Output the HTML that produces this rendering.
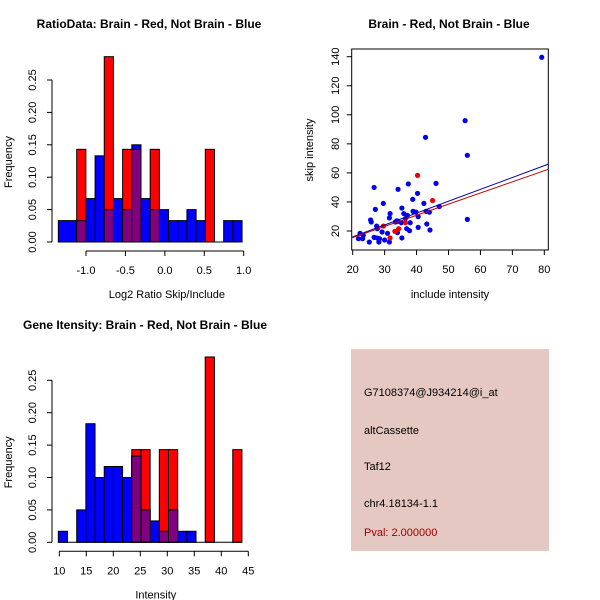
<!DOCTYPE html>
<html><head><meta charset="utf-8"><style>
html,body{margin:0;padding:0;background:#fff;}
svg{display:block;font-family:"Liberation Sans",sans-serif;}
</style></head><body>
<svg id="c" width="600" height="600" xmlns="http://www.w3.org/2000/svg">
<g id="p1"></g>
<g id="p2"></g>
<g id="p3"></g>
<g id="p4">
<rect x="351" y="349" width="198" height="202" fill="#e5c8c2"/>
<text x="364" y="396" font-size="11">G7108374@J934214@i_at</text>
<text x="364" y="434" font-size="11">altCassette</text>
<text x="364" y="470" font-size="11">Taf12</text>
<text x="364" y="507" font-size="11">chr4.18134-1.1</text>
<text x="364" y="536" font-size="11" fill="#a00000">Pval: 2.000000</text>
</g>
</svg>
<script>
// ---- data ----
var ratioBlue = [0.033,0.033,0.033,0.067,0.133,0.05,0.067,0.05,0.15,0.067,0.05,0.05,0.033,0.033,0.05,0.033,0,0,0.033,0.033];
var ratioRed  = [0,0,0.143,0,0,0.286,0,0.143,0.143,0,0.143,0,0,0,0,0,0.143,0,0,0];
var ratioStart = -1.351, ratioBinW = 0.1165;
var ratioXTicks = [-1.0,-0.5,0.0,0.5,1.0];
var intBlue = [0.017,0,0.05,0.183,0.1,0.117,0.117,0.1,0.133,0.05,0.033,0.017,0.05,0.017,0.017,0,0,0,0,0];
var intRed  = [0,0,0,0,0,0,0,0,0.143,0.143,0,0.143,0.143,0,0,0,0.286,0,0,0.143];
var intStart = 9.82, intBinW = 1.7;
var intXTicks = [10,15,20,25,30,35,40,45];
var freqTicks = [0,0.05,0.10,0.15,0.20,0.25];
var blueX = [79.2,55.2,55.9,42.8,55.9,26.7,34.2,37.4,40.3,46.1,29.6,27.1,35.4,38.8,42.3,47.1,44,43,39.8,38.9,36,31.7,31.5,37.1,40.5,25.6,25.8,34.2,35.2,38,43.2,27.5,27.7,33.4,34,36.9,37.8,40.5,44.2,35.4,30.9,29.2,22.3,21.8,23.1,25.2,26.7,27.7,28.4,28.2,30,31.5,23.3,36.5,33.8];
var blueY = [139.6,96,72.1,84.5,28,50,48.7,52.4,45.9,52.8,39,34.9,35.8,41.8,39,36.8,33,33.5,33,33.5,32,32,29,30.8,29.9,27.6,26.2,26.7,25.7,25.7,24.8,23.4,21.6,26.2,18.9,21.6,20.2,22.5,20.7,15.2,18.4,19.3,18.4,14.7,14.7,12.4,15.6,15.2,14.7,12.4,13.8,12.4,17,28.5,27];
var redX = [40.3,45,29.6,34.4,33.2,31.7,36.5];
var redY = [58.3,41,23.4,21.6,19.8,15.2,25.7];
var fitIntercept = [-0.34,0.16];
var fitSlope = [0.817,0.767];
var scXTicks = [20,30,40,50,60,70,80];
var scYTicks = [20,40,60,80,100,120,140];

var NS="http://www.w3.org/2000/svg";
function mk(parent,tag,attrs){var e=document.createElementNS(NS,tag);for(var k in attrs)e.setAttribute(k,attrs[k]);parent.appendChild(e);return e;}

function hist(g,blue,red,start,bw,xticks,xmin,xmax,px0,px1,base,title,titleX,titleY,xlab,fmt){
  var sx=function(v){return px0+(v-xmin)*(px1-px0)/(xmax-xmin);};
  var sy=function(v){return base-v*648;};
  var i,x0,x1,r;
  for(i=0;i<blue.length;i++){
    x0=sx(start+i*bw);x1=sx(start+(i+1)*bw);
    if(blue[i]>0){r=mk(g,'rect',{x:x0,y:sy(blue[i]),width:x1-x0,height:base-sy(blue[i]),fill:'#0000ff',stroke:'#000','stroke-width':1});
    
    }
  }
  for(i=0;i<red.length;i++){
    x0=sx(start+i*bw);x1=sx(start+(i+1)*bw);
    if(red[i]>0){r=mk(g,'rect',{x:x0,y:sy(red[i]),width:x1-x0,height:base-sy(red[i]),fill:'#ff0000',stroke:'#000','stroke-width':1});
    
    }
  }
  for(i=0;i<red.length;i++){
    var m=Math.min(red[i],blue[i]);
    x0=sx(start+i*bw);x1=sx(start+(i+1)*bw);
    if(m>0){r=mk(g,'rect',{x:x0,y:sy(m),width:x1-x0,height:base-sy(m),fill:'#800080',stroke:'#000','stroke-width':1});
    
    }
  }
  mk(g,'line',{x1:sx(start),x2:sx(start+blue.length*bw),y1:base,y2:base,stroke:'#000'});
  // y axis
  var ax=52;
  mk(g,'line',{x1:ax,x2:ax,y1:sy(0),y2:sy(0.25),stroke:'#000'});
  for(i=0;i<freqTicks.length;i++){
    var y=sy(freqTicks[i]);
    mk(g,'line',{x1:ax-5,x2:ax,y1:y,y2:y,stroke:'#000'});
    var t=mk(g,'text',{x:0,y:0,'font-size':11,'text-anchor':'middle',transform:'translate(36,'+y+') rotate(-90)'});
    t.textContent=freqTicks[i].toFixed(2);
    
    
  }
  // x axis
  var ay=base+9;
  mk(g,'line',{x1:sx(xticks[0]),x2:sx(xticks[xticks.length-1]),y1:ay,y2:ay,stroke:'#000'});
  for(i=0;i<xticks.length;i++){
    var x=sx(xticks[i]);
    mk(g,'line',{x1:x,x2:x,y1:ay,y2:ay+5,stroke:'#000'});
    var t2=mk(g,'text',{x:x,y:ay+23,'font-size':11,'text-anchor':'middle'});
    t2.textContent=fmt(xticks[i]);
    
    
  }
  var xl=mk(g,'text',{x:(px0+px1)/2+2,y:base+56,'font-size':11,'text-anchor':'middle'});
  xl.textContent=xlab;
  
  
  var yl=mk(g,'text',{x:0,y:0,'font-size':11,'text-anchor':'middle',transform:'translate(12,'+(base-80)+') rotate(-90)'});
  yl.textContent='Frequency';
  
  
  var tt=mk(g,'text',{x:titleX,y:titleY,'font-size':12,'font-weight':'bold','text-anchor':'middle'});
  tt.textContent=title;
  
  
}

hist(document.getElementById('p1'),ratioBlue,ratioRed,ratioStart,ratioBinW,ratioXTicks,-1,1,86,243.7,242,
  'RatioData: Brain - Red, Not Brain - Blue',149,28,'Log2 Ratio Skip/Include',function(v){return v.toFixed(1);});
hist(document.getElementById('p3'),intBlue,intRed,intStart,intBinW,intXTicks,10,45,59.3,248.3,542.3,
  'Gene Itensity: Brain - Red, Not Brain - Blue',145,329,'Intensity',function(v){return String(v);});

// scatter
(function(){
  var g=document.getElementById('p2');
  var sx=function(v){return 352.7+(v-20)*(544.3-352.7)/60;};
  var sy=function(v){return 231-(v-20)*(231-56.7)/120;};
  var L=351.7,R=548.3,T=49,B=250,i,c;
  mk(g,'rect',{x:L,y:T,width:R-L,height:B-T,fill:'none',stroke:'#000'});
  for(i=0;i<blueX.length;i++){
    c=mk(g,'circle',{cx:sx(blueX[i]),cy:sy(blueY[i]),r:2.6,fill:'#0000ee'});
    
    
  }
  for(i=0;i<redX.length;i++){
    c=mk(g,'circle',{cx:sx(redX[i]),cy:sy(redY[i]),r:2.6,fill:'#ee0000'});
    
    
  }
  var cols=['#0000a0','#c00000'];
  var xa=(L-352.7)*60/(544.3-352.7)+20, xb=(R-352.7)*60/(544.3-352.7)+20;
  for(i=0;i<2;i++){
    var ln=mk(g,'line',{x1:sx(xa),y1:sy(fitIntercept[i]+fitSlope[i]*xa),x2:sx(xb),y2:sy(fitIntercept[i]+fitSlope[i]*xb),stroke:cols[i],'stroke-width':1});
    
    
  }
  for(i=0;i<scXTicks.length;i++){
    var x=sx(scXTicks[i]);
    mk(g,'line',{x1:x,x2:x,y1:B,y2:B+5,stroke:'#000'});
    var t=mk(g,'text',{x:x,y:273,'font-size':11,'text-anchor':'middle'});
    t.textContent=scXTicks[i];
    
    
  }
  for(i=0;i<scYTicks.length;i++){
    var y=sy(scYTicks[i]);
    mk(g,'line',{x1:L-5,x2:L,y1:y,y2:y,stroke:'#000'});
    var t2=mk(g,'text',{x:0,y:0,'font-size':11,'text-anchor':'middle',transform:'translate(339,'+y+') rotate(-90)'});
    t2.textContent=scYTicks[i];
    
    
  }
  var xl=mk(g,'text',{x:450,y:298,'font-size':11,'text-anchor':'middle'});
  xl.textContent='include intensity';
  
  
  var yl=mk(g,'text',{x:0,y:0,'font-size':11,'text-anchor':'middle',transform:'translate(313,150) rotate(-90)'});
  yl.textContent='skip intensity';
  
  
  var tt=mk(g,'text',{x:449,y:28,'font-size':12,'font-weight':'bold','text-anchor':'middle'});
  tt.textContent='Brain - Red, Not Brain - Blue';
  
  
})();
</script>
</body></html>
